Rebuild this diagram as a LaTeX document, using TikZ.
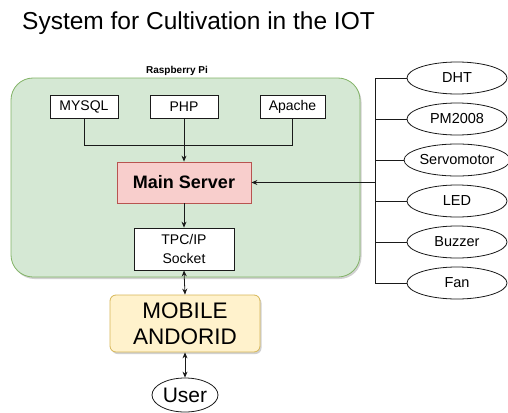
\documentclass[tikz,border=0pt]{standalone}
\usepackage{fontspec}
\setmainfont{Liberation Sans}
\usetikzlibrary{arrows.meta,shadows}
\definecolor{grfill}{HTML}{D5E8D4}
\definecolor{grline}{HTML}{82B366}
\definecolor{rdfill}{HTML}{F8CECC}
\definecolor{rdline}{HTML}{B85450}
\definecolor{ylfill}{HTML}{FFF2CC}
\definecolor{ylline}{HTML}{D6B656}
\definecolor{ln}{HTML}{1A1A1A}
\tikzset{
  box/.style={draw=ln, fill=white, line width=0.8pt, inner sep=0pt, align=center, font=\fontsize{14}{19}\selectfont},
  dev/.style={draw=ln, fill=white, ellipse, line width=0.8pt, inner sep=0pt, minimum width=100pt, minimum height=32pt, font=\fontsize{14.5}{17}\selectfont},
  wire/.style={draw=ln, line width=0.8pt},
  arr/.style={wire, -{Stealth[length=6pt,width=5pt]}},
  darr/.style={wire, {Stealth[length=6pt,width=5pt]}-{Stealth[length=6pt,width=5pt]}},
  shd/.style={drop shadow={shadow xshift=1.5pt, shadow yshift=-2pt, fill=black, opacity=0.18}}
}
\usetikzlibrary{shapes.geometric}
\begin{document}
\begin{tikzpicture}[x=1pt,y=-1pt]
\useasboundingbox (0,0) rectangle (508,412);
% title
\node[anchor=base west, inner sep=0pt, font=\fontsize{24.5}{28}\selectfont] (title) at (22,30) {System for Cultivation in the IOT};
% container
\node[anchor=base, inner sep=0pt, font=\bfseries\fontsize{10}{12}\selectfont] (rpilabel) at (177,73) {Raspberry Pi};
\node[draw=grline, fill=grfill, line width=0.8pt, rounded corners=22pt, minimum width=349pt, minimum height=199pt, inner sep=0pt, shd] (rpi) at (185.5,177.5) {};
% software boxes
\node[box, minimum width=68pt, minimum height=23pt] (mysql) at (84,106.5) {MYSQL};
\node[box, minimum width=68pt, minimum height=23pt] (php) at (184,106.5) {PHP};
\node[box, minimum width=65pt, minimum height=23pt] (apache) at (292.5,106.5) {Apache};
\coordinate (join) at (184,145);
\node[box, draw=rdline, fill=rdfill, minimum width=134pt, minimum height=41pt, font=\bfseries\fontsize{18}{20}\selectfont] (main) at (184,182.5) {Main Server};
\node[box, minimum width=100pt, minimum height=42pt] (sock) at (184,249) {TPC/IP\\Socket};
\node[box, draw=ylline, fill=ylfill, rounded corners=6pt, minimum width=150pt, minimum height=57pt, font=\fontsize{22.5}{26}\selectfont, shd] (mobile) at (185,323.5) {MOBILE\\ANDORID};
\node[dev, minimum width=66pt, minimum height=34pt, font=\fontsize{21}{24}\selectfont] (user) at (185,395) {User};
% devices
\node[dev] (dht) at (457,78) {DHT};
\node[dev] (pm) at (457,119) {PM2008};
\node[dev] (servo) at (457,160) {Servomotor};
\node[dev] (led) at (457,201) {LED};
\node[dev] (buzz) at (457,242) {Buzzer};
\node[dev] (fan) at (457,283) {Fan};
\coordinate (bus) at (375,182);
% connectors
\draw[wire] (mysql.south) -- (mysql.south |- join) -- (apache.south |- join) -- (apache.south);
\draw[arr] (php.south) -- (main.north);
\draw[arr] (main.south) -- (sock.north);
\draw[darr] (sock.south) -- (mobile.north);
\draw[darr] (mobile.south) -- (user.north);
\draw[wire] (dht.west -| bus) -- (fan.west -| bus);
\foreach \d in {dht,pm,servo,led,buzz,fan}{\draw[wire] (\d.west) -- (\d.west -| bus);}
\draw[arr] (main.east -| bus) -- (main.east);
\end{tikzpicture}
\end{document}
